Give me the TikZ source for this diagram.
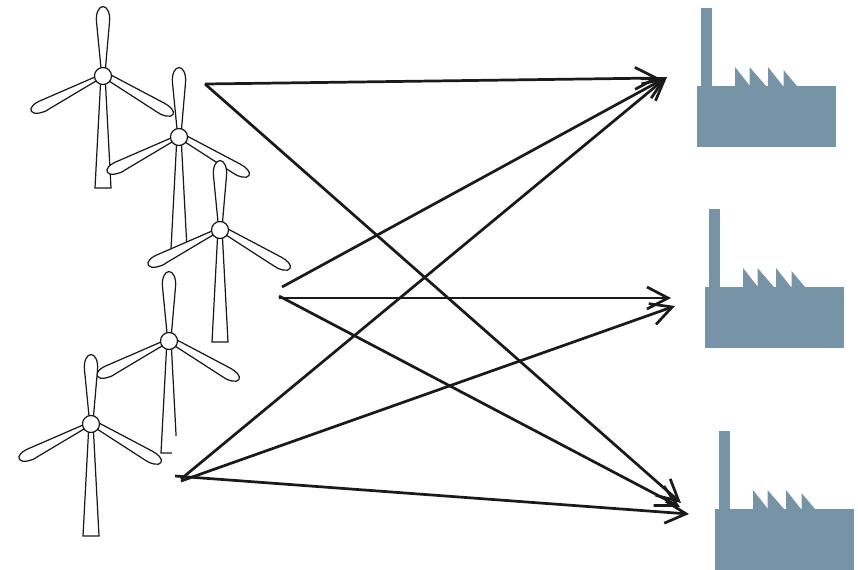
\documentclass[tikz,border=0pt]{standalone}
\usetikzlibrary{arrows.meta}
\definecolor{factorycol}{RGB}{118,148,166}
\definecolor{arrowcol}{RGB}{26,26,26}
\tikzset{
  linkarrow/.style={draw=arrowcol, line width=1.55pt, -{Straight Barb[length=12pt,width=12.5pt,line width=1.55pt]}},
  bladeline/.style={draw=black!90, line width=0.7pt, fill=white},
  pics/turbine/.style={code={
    \draw[bladeline] (-2.5,8) -- (-8,112) -- (8,112) -- (2.5,8);
    \draw[bladeline] (-2,-8) -- (-6.5,-54) .. controls (-7.5,-63) and (-4,-69.5) .. (0,-69.5) .. controls (4,-69.5) and (7.5,-63) .. (6.5,-54) -- (2.5,-8);
    \draw[bladeline] (-8,1) -- (-61,24) .. controls (-69,27) and (-74,32) .. (-71.5,35.5) .. controls (-69,39) and (-59,37) .. (-54,33) -- (-7,5);
    \draw[bladeline] (8,-1) -- (61,27) .. controls (67,30) and (72,35) .. (70,38.5) .. controls (68,42) and (59,40) .. (54,36) -- (6,5);
    \draw[bladeline] (0,0) circle (8.5);
  }},
  pics/factory/.style={code={
    \fill[factorycol] (0,0) rectangle (139,61);
    \fill[factorycol] (3.5,-78) rectangle (14.5,0);
    \fill[factorycol] (38,-19) -- (53,0) -- (38,0) -- cycle;
    \fill[factorycol] (52.5,-19) -- (69,0) -- (52.5,0) -- cycle;
    \fill[factorycol] (71,-19) -- (86,0) -- (71,0) -- cycle;
    \fill[factorycol] (86.5,-16) -- (100,0) -- (86.5,0) -- cycle;
  }}
}
\begin{document}
\begin{tikzpicture}[x=0.02cm,y=-0.02cm]
  \useasboundingbox (0,0) rectangle (858,569);
  % turbines
  \pic at (103,76) {turbine};
  \pic at (179,137) {turbine};
  \pic at (220,230) {turbine};
  \pic at (169,341) {turbine};
  \fill[white] (172,436) rectangle (180,456);
  \pic at (91,424) {turbine};
  % factories
  \pic at (697,86) {factory};
  \pic at (705,287) {factory};
  \pic at (715,509) {factory};
  % arrow ends
  \coordinate (srcA) at (205,84);
  \coordinate (srcB) at (282,287);
  \coordinate (srcC) at (279,298);
  \coordinate (srcD) at (279,296);
  \coordinate (srcE) at (181,481);
  \coordinate (srcF) at (181,479);
  \coordinate (srcG) at (175,476);
  \coordinate (topA) at (659,78);
  \coordinate (topB) at (667,77);
  \coordinate (midA) at (671,298);
  \coordinate (midB) at (675,306);
  \coordinate (lowA) at (681,503);
  \coordinate (lowB) at (680,507);
  \coordinate (lowC) at (689,514);
  \draw[linkarrow] (srcA) -- (topA);
  \draw[linkarrow] (srcA) -- (lowA);
  \draw[linkarrow] (srcB) -- (topB);
  \draw[linkarrow] (srcC) -- (midA);
  \draw[linkarrow] (srcD) -- (lowB);
  \draw[linkarrow] (srcE) -- (midB);
  \draw[linkarrow] (srcF) -- (topB);
  \draw[linkarrow] (srcG) -- (lowC);
\end{tikzpicture}
\end{document}
